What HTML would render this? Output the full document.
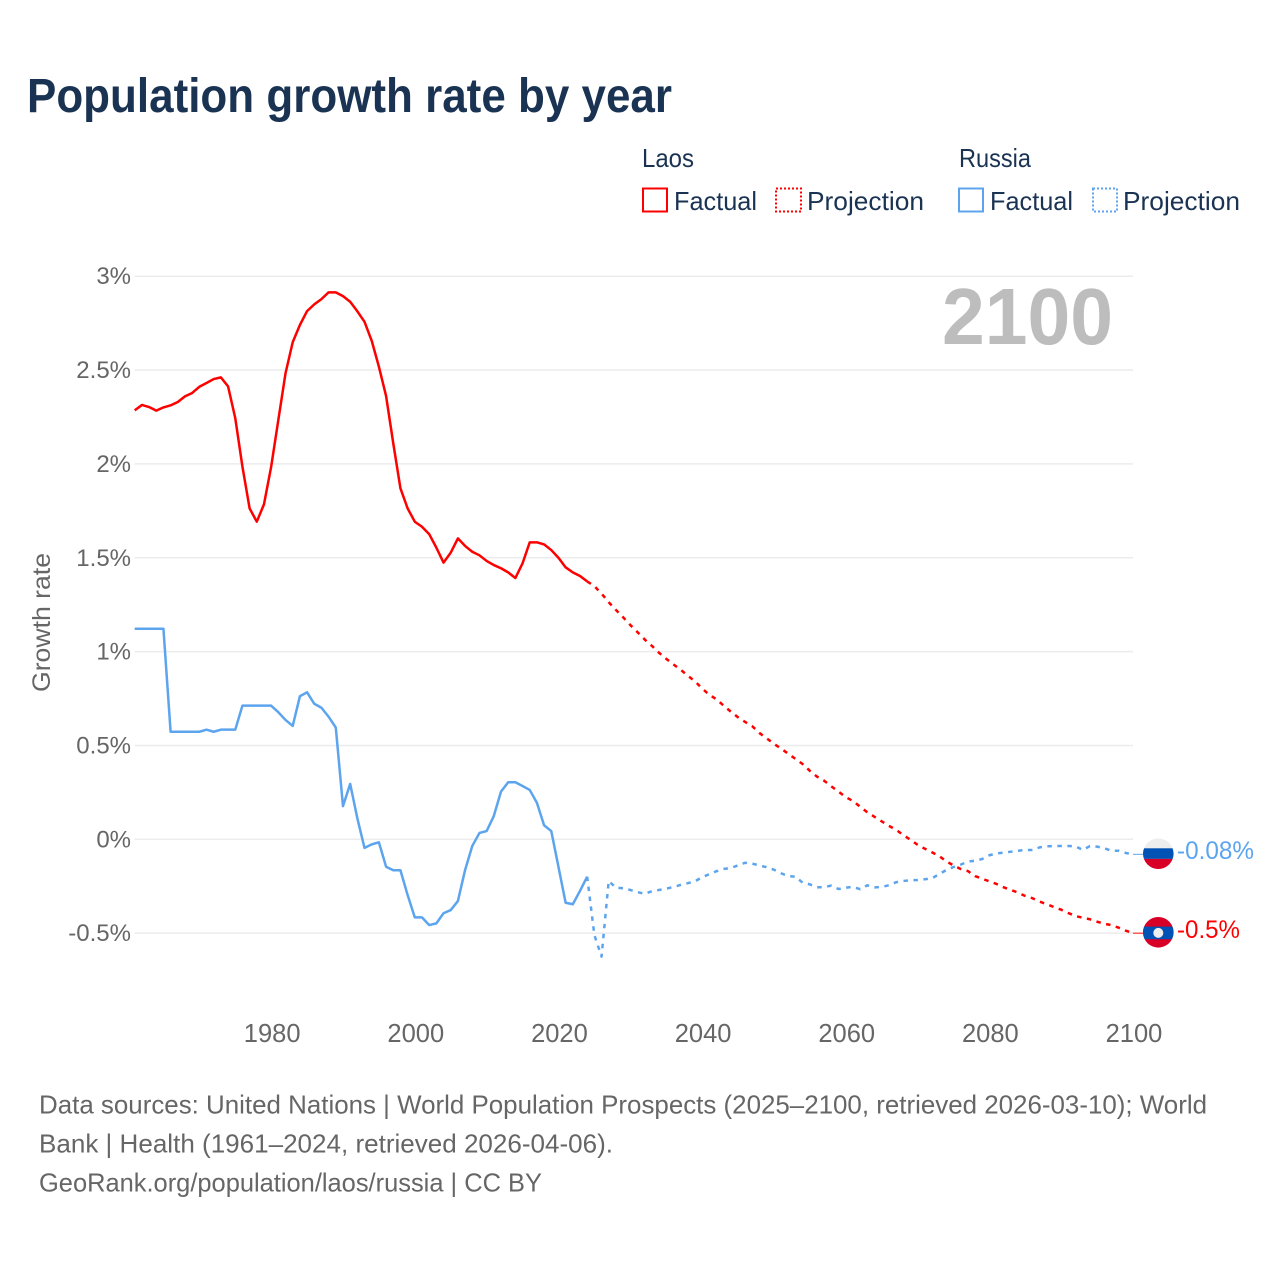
<!DOCTYPE html>
<html lang="en">
<head>
<meta charset="utf-8">
<title>Population growth rate by year</title>
<style>
html,body{margin:0;padding:0;background:#fff;}
svg{display:block;}
text{font-family:"Liberation Sans",Arial,sans-serif;}
</style>
</head>
<body>
<svg id="chart" xmlns="http://www.w3.org/2000/svg" width="1280" height="1280" viewBox="0 0 1280 1280">
  <defs>
    <clipPath id="flag-clip-ru"><circle cx="1158.3" cy="853.7" r="15.3"/></clipPath>
    <clipPath id="flag-clip-la"><circle cx="1158.3" cy="932.3" r="15.3"/></clipPath>
  </defs>
  <rect x="0" y="0" width="1280" height="1280" fill="#fff"/>
  <text x="27" y="112" font-size="48" font-weight="700" fill="#1a3353" textLength="645" lengthAdjust="spacingAndGlyphs">Population growth rate by year</text>

  <g font-size="26" fill="#1a3353">
    <text x="642" y="167" textLength="52" lengthAdjust="spacingAndGlyphs">Laos</text>
    <g>
      <rect x="643" y="188.5" width="24" height="23" fill="none" stroke="#ff0000" stroke-width="2"/>
      <text x="674" y="210" textLength="83" lengthAdjust="spacingAndGlyphs">Factual</text>
    </g>
    <g>
      <rect x="776" y="188.5" width="25" height="23" fill="none" stroke="#ff0000" stroke-width="2" stroke-dasharray="2 2"/>
      <text x="807" y="210" textLength="117" lengthAdjust="spacingAndGlyphs">Projection</text>
    </g>
    <text x="959" y="167" textLength="72" lengthAdjust="spacingAndGlyphs">Russia</text>
    <g>
      <rect x="959" y="188.5" width="24" height="23" fill="none" stroke="#5ca5ee" stroke-width="2"/>
      <text x="990" y="210" textLength="83" lengthAdjust="spacingAndGlyphs">Factual</text>
    </g>
    <g>
      <rect x="1093" y="188.5" width="24" height="23" fill="none" stroke="#5ca5ee" stroke-width="2" stroke-dasharray="2 2"/>
      <text x="1123" y="210" textLength="117" lengthAdjust="spacingAndGlyphs">Projection</text>
    </g>
  </g>

  <g id="grid"></g>
  <g id="y-ticks" font-size="24" fill="#666" text-anchor="end"></g>
  <g id="x-ticks" font-size="25.5" fill="#666" text-anchor="middle"></g>

  <text transform="translate(50,622.5) rotate(-90)" font-size="25" fill="#666" text-anchor="middle" textLength="139" lengthAdjust="spacingAndGlyphs">Growth rate</text>
  <text x="942" y="344" font-size="80" font-weight="700" fill="#bdbdbd" textLength="171" lengthAdjust="spacingAndGlyphs">2100</text>

  <g id="series"></g>

  <g clip-path="url(#flag-clip-ru)">
    <rect x="1142" y="838" width="33" height="11" fill="#eeeeee"/>
    <rect x="1142" y="848.3" width="33" height="10.6" fill="#0052b4"/>
    <rect x="1142" y="858.9" width="33" height="11" fill="#d80027"/>
  </g>
  <g clip-path="url(#flag-clip-la)">
    <rect x="1142" y="916" width="33" height="33" fill="#d80027"/>
    <rect x="1142" y="926.6" width="33" height="12.6" fill="#0052b4"/>
    <circle cx="1158.3" cy="932.9" r="5" fill="#eeeeee"/>
  </g>
  <text id="end-label-russia" x="1177" y="859" font-size="25" fill="#5ca5ee" textLength="77" lengthAdjust="spacingAndGlyphs"></text>
  <text id="end-label-laos" x="1177" y="938" font-size="25" fill="#ff0000" textLength="63" lengthAdjust="spacingAndGlyphs"></text>

  <g font-size="26" fill="#666">
    <text x="39" y="1113.5" textLength="1168" lengthAdjust="spacingAndGlyphs">Data sources: United Nations | World Population Prospects (2025–2100, retrieved 2026-03-10); World</text>
    <text x="39" y="1152.5" textLength="574" lengthAdjust="spacingAndGlyphs">Bank | Health (1961–2024, retrieved 2026-04-06).</text>
    <text x="39" y="1191.5" textLength="503" lengthAdjust="spacingAndGlyphs">GeoRank.org/population/laos/russia | CC BY</text>
  </g>
</svg>
<script>
var firstYear = 1961;
var lastYear = 2100;
var xTickYears = [1980, 2000, 2020, 2040, 2060, 2080, 2100];
var yTickValues = [3, 2.5, 2, 1.5, 1, 0.5, 0, -0.5];
var yTickLabels = ["3%", "2.5%", "2%", "1.5%", "1%", "0.5%", "0%", "-0.5%"];
var endLabels = ["-0.08%", "-0.5%"];

/* Laos 1961–2024 */
var laosFactual = [
2.285,2.314,2.303,2.284,2.301,2.312,2.330,2.360,2.378,2.411,
2.431,2.452,2.461,2.413,2.244,1.985,1.763,1.692,1.785,1.985,
2.234,2.483,2.648,2.740,2.814,2.850,2.878,2.914,2.914,2.894,
2.864,2.813,2.757,2.656,2.518,2.362,2.110,1.870,1.763,1.692,
1.665,1.626,1.554,1.474,1.527,1.603,1.563,1.532,1.513,1.483,
1.461,1.444,1.422,1.392,1.470,1.582,1.582,1.571,1.541,1.500,
1.449,1.422,1.403,1.374];
/* Laos 2025–2100 */
var laosProjection = [
1.349,1.309,1.263,1.222,1.183,1.142,1.104,1.065,1.031,0.994,
0.962,0.932,0.904,0.872,0.842,0.804,0.770,0.746,0.712,0.680,
0.650,0.625,0.602,0.566,0.538,0.509,0.483,0.456,0.428,0.401,
0.365,0.334,0.312,0.282,0.254,0.225,0.204,0.174,0.144,0.120,
0.096,0.072,0.051,0.023,-0.002,-0.029,-0.050,-0.069,-0.089,-0.117,
-0.139,-0.158,-0.169,-0.196,-0.210,-0.224,-0.238,-0.256,-0.270,-0.284,
-0.302,-0.314,-0.332,-0.346,-0.361,-0.375,-0.393,-0.409,-0.418,-0.426,
-0.439,-0.450,-0.457,-0.471,-0.487,-0.500];
/* Russia 1961–2024 */
var russiaFactual = [
1.122,1.122,1.122,1.122,1.122,0.573,0.573,0.573,0.573,0.573,
0.584,0.573,0.584,0.584,0.584,0.712,0.712,0.712,0.712,0.712,
0.677,0.636,0.604,0.762,0.783,0.722,0.701,0.653,0.595,0.177,
0.295,0.112,-0.046,-0.027,-0.016,-0.146,-0.165,-0.165,-0.297,-0.416,
-0.416,-0.457,-0.448,-0.394,-0.377,-0.329,-0.164,-0.036,0.034,0.044,
0.124,0.254,0.304,0.304,0.284,0.263,0.195,0.075,0.044,-0.146,
-0.338,-0.346,-0.275,-0.199];
/* Russia 2025–2100 */
var russiaProjection = [
-0.510,-0.625,-0.222,-0.258,-0.261,-0.270,-0.281,-0.291,-0.277,-0.270,
-0.263,-0.254,-0.243,-0.234,-0.224,-0.202,-0.186,-0.170,-0.158,-0.153,
-0.139,-0.125,-0.130,-0.139,-0.149,-0.162,-0.181,-0.196,-0.199,-0.231,
-0.240,-0.256,-0.254,-0.247,-0.265,-0.258,-0.253,-0.266,-0.245,-0.256,
-0.254,-0.245,-0.229,-0.222,-0.218,-0.217,-0.213,-0.208,-0.186,-0.164,
-0.148,-0.135,-0.119,-0.114,-0.105,-0.085,-0.075,-0.071,-0.066,-0.061,
-0.057,-0.057,-0.043,-0.037,-0.036,-0.036,-0.036,-0.037,-0.057,-0.036,
-0.039,-0.048,-0.061,-0.061,-0.073,-0.080];

var SVG_NS = "http://www.w3.org/2000/svg";
var RED = "#ff0000";
var BLUE = "#5ca5ee";

function xScale(year) {
  return 134.7 + (year - firstYear) * (1133 - 134.7) / (lastYear - firstYear);
}
function yScale(value) {
  return 839.3 - value * 187.7;
}
function pathFor(values, startYear) {
  var d = "";
  for (var i = 0; i < values.length; i++) {
    d += (i ? "L" : "M") + xScale(startYear + i).toFixed(2) + " " + yScale(values[i]).toFixed(2);
  }
  return d;
}

var gridGroup = document.getElementById("grid");
var yGroup = document.getElementById("y-ticks");
yTickValues.forEach(function (v, i) {
  var line = document.createElementNS(SVG_NS, "line");
  
  
  line.setAttribute("x1", xScale(firstYear));
  line.setAttribute("x2", xScale(lastYear));
  line.setAttribute("y1", yScale(v));
  line.setAttribute("y2", yScale(v));
  line.setAttribute("stroke", "#ececec");
  line.setAttribute("stroke-width", "1.5");
  gridGroup.appendChild(line);

  var label = document.createElementNS(SVG_NS, "text");
  
  
  label.setAttribute("x", 131);
  label.setAttribute("y", yScale(v) + 8);
  label.textContent = yTickLabels[i];
  yGroup.appendChild(label);
});

var xGroup = document.getElementById("x-ticks");
xTickYears.forEach(function (year) {
  var label = document.createElementNS(SVG_NS, "text");
  
  
  label.setAttribute("x", xScale(year) + 1);
  label.setAttribute("y", 1042);
  label.textContent = year;
  xGroup.appendChild(label);
});

var seriesGroup = document.getElementById("series");
function addLine(name, values, startYear, color, dashed) {
  var p = document.createElementNS(SVG_NS, "path");
  
  
  p.setAttribute("d", pathFor(values, startYear));
  p.setAttribute("fill", "none");
  p.setAttribute("stroke", color);
  p.setAttribute("stroke-width", "2.5");
  p.setAttribute("stroke-linejoin", "round");
  if (dashed) p.setAttribute("stroke-dasharray", "4.5 5.5");
  seriesGroup.appendChild(p);
}
function addLeader(name, value, color) {
  var l = document.createElementNS(SVG_NS, "line");
  
  
  l.setAttribute("x1", xScale(lastYear));
  l.setAttribute("x2", xScale(lastYear) + 10);
  l.setAttribute("y1", yScale(value));
  l.setAttribute("y2", yScale(value));
  l.setAttribute("stroke", color);
  l.setAttribute("stroke-width", "1");
  seriesGroup.appendChild(l);
}
var factualEnd = firstYear + laosFactual.length - 1;
addLine("laos-factual-line", laosFactual, firstYear, RED, false);
addLine("laos-projection-line", [laosFactual[laosFactual.length - 1]].concat(laosProjection), factualEnd, RED, true);
addLine("russia-factual-line", russiaFactual, firstYear, BLUE, false);
addLine("russia-projection-line", [russiaFactual[russiaFactual.length - 1]].concat(russiaProjection), factualEnd, BLUE, true);
addLeader("russia-leader-line", russiaProjection[russiaProjection.length - 1], BLUE);
addLeader("laos-leader-line", laosProjection[laosProjection.length - 1], RED);

document.getElementById("end-label-russia").textContent = endLabels[0];
document.getElementById("end-label-laos").textContent = endLabels[1];
</script>
</body>
</html>
